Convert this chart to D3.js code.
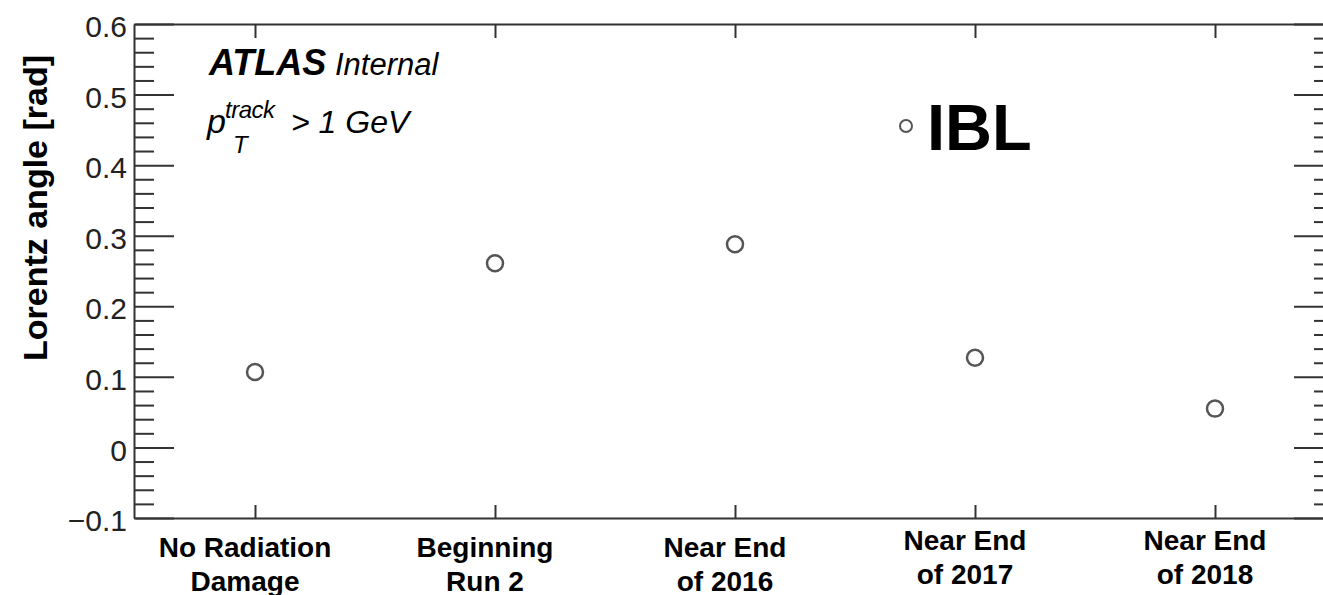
<!DOCTYPE html>
<html>
<head>
<meta charset="utf-8">
<script src="https://cdn.jsdelivr.net/npm/d3@7"></script>
<style>
  html, body { margin: 0; padding: 0; background: #fff; overflow: hidden; }
  svg { display: block; font-family: "Liberation Sans", Arial, Helvetica, sans-serif; }
  .axis path, .axis line { stroke: #333; stroke-width: 2; }
  .axis text { fill: #222; font-size: 30px; }
</style>
</head>
<body>
<svg id="chart" width="1323" height="595"></svg>
<script>
// data
const categories = ["No Radiation Damage", "Beginning Run 2", "Near End of 2016", "Near End of 2017", "Near End of 2018"];
const labelLines = [["No Radiation", "Damage"], ["Beginning", "Run 2"], ["Near End", "of 2016"], ["Near End", "of 2017"], ["Near End", "of 2018"]];
const lorentzAngle = [0.107, 0.261, 0.288, 0.127, 0.055];
const yTicks = [-0.1, 0, 0.1, 0.2, 0.3, 0.4, 0.5, 0.6];

const svg = d3.select("#chart");
const plotLeft = 134, plotRight = 1334, plotTop = 24, plotBottom = 518;

const yScale = d3.scaleLinear().domain([-0.1, 0.6]).range([plotBottom, plotTop]);
const xScale = d3.scalePoint().domain(categories).range([plotLeft + 1, plotRight + 1]).padding(0.5);

// minor ticks every 0.02
const minorTicks = d3.range(0, 36).filter(i => i % 5 !== 0).map(i => -0.1 + i * 0.02);
const fmt = d => Math.abs(d) < 1e-9 ? "0" : d3.format(".1f")(d);

// left axis
const yAxisG = svg.append("g").attr("class", "axis")
  .attr("transform", `translate(${plotLeft},0)`)
  .call(d3.axisLeft(yScale).tickValues(yTicks).tickFormat(fmt).tickSize(-40).tickSizeOuter(0).tickPadding(7));
yAxisG.selectAll("text").attr("dy", "0.42em");
svg.append("g").attr("class", "axis")
  .attr("transform", `translate(${plotLeft},0)`)
  .call(d3.axisLeft(yScale).tickValues(minorTicks).tickFormat("").tickSize(-20).tickSizeOuter(0))
  .select(".domain").remove();

// right axis (mostly past the edge)
svg.append("g").attr("class", "axis")
  .attr("transform", `translate(${plotRight},0)`)
  .call(d3.axisRight(yScale).tickValues(yTicks).tickFormat("").tickSize(-40).tickSizeOuter(0));
svg.append("g").attr("class", "axis")
  .attr("transform", `translate(${plotRight},0)`)
  .call(d3.axisRight(yScale).tickValues(minorTicks).tickFormat("").tickSize(-20).tickSizeOuter(0))
  .select(".domain").remove();

// bottom / top axes
svg.append("g").attr("class", "axis")
  .attr("transform", `translate(0,${plotBottom})`)
  .call(d3.axisBottom(xScale).tickFormat("").tickSize(-13).tickSizeOuter(0));
svg.append("g").attr("class", "axis")
  .attr("transform", `translate(0,${plotTop})`)
  .call(d3.axisTop(xScale).tickFormat("").tickSize(-14).tickSizeOuter(0));

// category labels, the last two sit a little higher
const catLabels = svg.append("g").selectAll("text").data(categories).join("text")
  .attr("x", d => xScale(d) - 10)
  .attr("y", (d, i) => i >= 3 ? 550 : 557)
  .attr("text-anchor", "middle")
  .style("font-size", "28px").style("font-weight", "bold").style("fill", "#000");
catLabels.selectAll("tspan").data((d, i) => labelLines[i]).join("tspan")
  .attr("x", function() { return d3.select(this.parentNode).attr("x"); })
  .attr("dy", (d, j) => j === 0 ? 0 : 34)
  .text(d => d);

// y axis title
svg.append("text")
  .attr("transform", "translate(47,208) rotate(-90)")
  .attr("text-anchor", "middle")
  .style("font-size", "34px").style("font-weight", "bold").style("fill", "#000")
  .text("Lorentz angle [rad]");

// data points
svg.append("g").selectAll("circle").data(lorentzAngle).join("circle")
  .attr("cx", (d, i) => xScale(categories[i]))
  .attr("cy", d => yScale(d))
  .attr("r", 8)
  .style("fill", "none").style("stroke", "#555").style("stroke-width", 2.5);

// ATLAS label
const atlas = svg.append("text").attr("x", 209).attr("y", 75)
  .style("font-style", "italic").style("fill", "#000");
atlas.append("tspan").style("font-weight", "bold").style("font-size", "36px").text("ATLAS");
atlas.append("tspan").style("font-size", "31px").text(" Internal");

const ptLabel = svg.append("g").style("font-style", "italic").style("fill", "#000");
ptLabel.append("text").attr("x", 207).attr("y", 133).style("font-size", "34px").text("p");
ptLabel.append("text").attr("x", 225).attr("y", 118).style("font-size", "24px").style("letter-spacing", "-0.5px").text("track");
ptLabel.append("text").attr("x", 233).attr("y", 153).style("font-size", "24px").text("T");
ptLabel.append("text").attr("x", 291).attr("y", 133).style("font-size", "32px").text("> 1 GeV");

// legend
svg.append("circle").attr("cx", 906).attr("cy", 126).attr("r", 6)
  .style("fill", "none").style("stroke", "#555").style("stroke-width", 2);
svg.append("text").attr("x", 927).attr("y", 150)
  .style("font-size", "65px").style("font-weight", "bold").style("fill", "#000")
  .text("IBL");
</script>
</body>
</html>
